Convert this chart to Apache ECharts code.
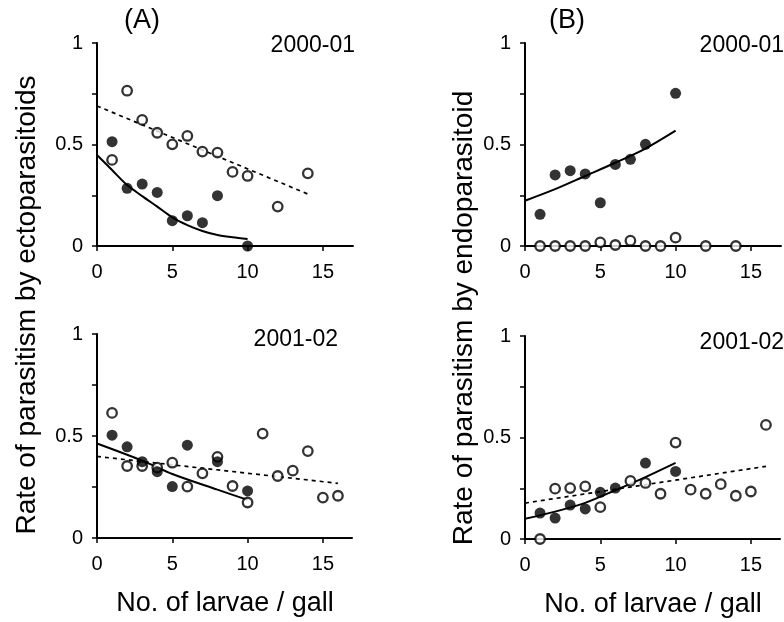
<!DOCTYPE html>
<html>
<head>
<meta charset="utf-8">
<script src="https://cdn.jsdelivr.net/npm/echarts@6/dist/echarts.min.js"></script>
<style>
  html, body { margin: 0; padding: 0; background: #fff; }
  #container { width: 784px; height: 622px; }
</style>
</head>
<body>
<div id="container"></div>
<script>
// values
const xTicks = [0, 5, 10, 15];
const yTicks = [0, 0.25, 0.5, 0.75, 1];
const yLabels = [0, 0.5, 1];

// (A) 2000-01
const a1FilledX = [1, 2, 3, 4, 5, 6, 7, 8, 10];
const a1FilledY = [0.514, 0.284, 0.305, 0.264, 0.125, 0.149, 0.115, 0.248, 0];
const a1OpenX = [1, 2, 3, 4, 5, 6, 7, 8, 9, 10, 12, 14];
const a1OpenY = [0.424, 0.765, 0.621, 0.558, 0.501, 0.542, 0.465, 0.46, 0.365, 0.345, 0.194, 0.358];
const a1FitX = [0, 1, 2, 3, 4, 5, 6, 7, 8, 9, 10];
const a1FitY = [0.448, 0.374, 0.3, 0.246, 0.194, 0.141, 0.103, 0.074, 0.054, 0.043, 0.035];
const a1DotX = [0, 14];
const a1DotY = [0.69, 0.256];

// (B) 2000-01
const b1FilledX = [1, 2, 3, 4, 5, 6, 7, 8, 10];
const b1FilledY = [0.156, 0.35, 0.371, 0.355, 0.213, 0.402, 0.427, 0.501, 0.752];
const b1OpenX = [1, 2, 3, 4, 5, 6, 7, 8, 9, 10, 12, 14];
const b1OpenY = [0, 0, 0, 0, 0.018, 0.005, 0.026, 0, 0, 0.041, 0, 0];
const b1FitX = [0, 2, 4, 6, 8, 10];
const b1FitY = [0.223, 0.28, 0.345, 0.41, 0.48, 0.568];

// (A) 2001-02
const a2FilledX = [1, 2, 3, 4, 5, 6, 8, 10];
const a2FilledY = [0.504, 0.447, 0.374, 0.325, 0.252, 0.455, 0.374, 0.231];
const a2OpenX = [1, 2, 3, 4, 5, 6, 7, 8, 9, 10, 11, 12, 13, 14, 15, 16];
const a2OpenY = [0.613, 0.353, 0.353, 0.345, 0.369, 0.252, 0.317, 0.398, 0.255, 0.174, 0.512, 0.304, 0.33, 0.426, 0.198, 0.207];
const a2FitX = [0, 3, 5, 8, 10];
const a2FitY = [0.463, 0.379, 0.314, 0.237, 0.187];
const a2DotX = [0, 16];
const a2DotY = [0.4, 0.268];

// (B) 2001-02
const b2FilledX = [1, 2, 3, 4, 5, 6, 8, 10];
const b2FilledY = [0.128, 0.103, 0.167, 0.148, 0.23, 0.251, 0.374, 0.333];
const b2OpenX = [1, 2, 3, 4, 5, 7, 8, 9, 10, 11, 12, 13, 14, 15, 16];
const b2OpenY = [0, 0.248, 0.251, 0.259, 0.157, 0.286, 0.276, 0.223, 0.475, 0.243, 0.223, 0.27, 0.213, 0.234, 0.562];
const b2FitX = [0, 2, 4, 6, 8, 10];
const b2FitY = [0.1, 0.135, 0.178, 0.24, 0.305, 0.375];
const b2DotX = [0, 16];
const b2DotY = [0.177, 0.358];

const FONT = "Liberation Sans, Arial, sans-serif";

function pairs(xs, ys) {
  return xs.map((x, i) => [x, ys[i]]);
}

function filled(i, xs, ys) {
  return {
    type: "scatter", xAxisIndex: i, yAxisIndex: i, z: 5,
    symbol: "circle", symbolSize: 11,
    itemStyle: { color: "#000" },
    data: pairs(xs, ys),
  };
}
function open(i, xs, ys) {
  return {
    type: "scatter", xAxisIndex: i, yAxisIndex: i, z: 4,
    symbol: "circle", symbolSize: 9.5,
    itemStyle: { color: "#fff", borderColor: "#000", borderWidth: 2.3 },
    data: pairs(xs, ys),
  };
}
function fit(i, xs, ys, dotted) {
  return {
    type: "line", xAxisIndex: i, yAxisIndex: i, z: 3,
    showSymbol: false, smooth: dotted ? false : 0.3,
    lineStyle: dotted
      ? { color: "#000", width: 1.7, type: [4, 4] }
      : { color: "#000", width: 2 },
    data: pairs(xs, ys),
  };
}

const grids = [
  { left: 97, top: 43, width: 256, height: 203 },
  { left: 525, top: 43, width: 256, height: 203 },
  { left: 97, top: 334, width: 256, height: 204 },
  { left: 525, top: 336, width: 256, height: 203 },
];

const xAxes = grids.map((g, i) => ({
  type: "value", gridIndex: i, min: 0, max: 17,
  axisLine: {
    onZero: false,
    lineStyle: { color: "#000", width: 2, type: i < 2 ? "solid" : [1, 1] },
  },
  axisTick: { show: true, length: 5, customValues: xTicks, lineStyle: { color: "#000", width: 1.5 } },
  axisLabel: { customValues: xTicks, margin: 16, color: "#000", fontSize: 20, fontFamily: FONT },
  splitLine: { show: false },
  name: i >= 2 ? "No. of larvae / gall" : "",
  nameLocation: "middle",
  nameGap: 52,
  nameTextStyle: { color: "#000", fontSize: 27, fontFamily: FONT },
}));

const yAxes = grids.map((g, i) => ({
  type: "value", gridIndex: i, min: 0, max: 1,
  axisLine: { lineStyle: { color: "#000", width: 2 } },
  axisTick: { show: true, length: 5, customValues: yTicks, lineStyle: { color: "#000", width: 1.5 } },
  axisLabel: { customValues: yLabels, margin: 14, color: "#000", fontSize: 20, fontFamily: FONT },
  splitLine: { show: false },
}));

const textStyle = (size) => ({ fill: "#000", fontSize: size, fontFamily: FONT });

const option = {
  animation: false,
  backgroundColor: "#fff",
  grid: grids,
  xAxis: xAxes,
  yAxis: yAxes,
  graphic: [
    { type: "text", x: 142, y: 21, style: { text: "(A)", ...textStyle(27), textAlign: "center", textVerticalAlign: "middle" } },
    { type: "text", x: 567, y: 21, style: { text: "(B)", ...textStyle(27), textAlign: "center", textVerticalAlign: "middle" } },
    { type: "text", x: 355, y: 46, style: { text: "2000-01", ...textStyle(23), textAlign: "right", textVerticalAlign: "middle" } },
    { type: "text", x: 784, y: 46, style: { text: "2000-01", ...textStyle(23), textAlign: "right", textVerticalAlign: "middle" } },
    { type: "text", x: 338, y: 340, style: { text: "2001-02", ...textStyle(23), textAlign: "right", textVerticalAlign: "middle" } },
    { type: "text", x: 784, y: 343, style: { text: "2001-02", ...textStyle(23), textAlign: "right", textVerticalAlign: "middle" } },
    { type: "text", x: 27, y: 305, rotation: Math.PI / 2,
      style: { text: "Rate of parasitism by ectoparasitoids", ...textStyle(28), textAlign: "center", textVerticalAlign: "middle" } },
    { type: "text", x: 464, y: 318, rotation: Math.PI / 2,
      style: { text: "Rate of parasitism by endoparasitoid", ...textStyle(28), textAlign: "center", textVerticalAlign: "middle" } },
  ],
  series: [
    fit(0, a1FitX, a1FitY, false),
    fit(0, a1DotX, a1DotY, true),
    open(0, a1OpenX, a1OpenY),
    filled(0, a1FilledX, a1FilledY),

    fit(1, b1FitX, b1FitY, false),
    open(1, b1OpenX, b1OpenY),
    filled(1, b1FilledX, b1FilledY),

    fit(2, a2FitX, a2FitY, false),
    fit(2, a2DotX, a2DotY, true),
    open(2, a2OpenX, a2OpenY),
    filled(2, a2FilledX, a2FilledY),

    fit(3, b2FitX, b2FitY, false),
    fit(3, b2DotX, b2DotY, true),
    open(3, b2OpenX, b2OpenY),
    filled(3, b2FilledX, b2FilledY),
  ],
};

const dom = document.getElementById("container");
const myChart = echarts.init(dom, null, { renderer: "canvas" });
myChart.setOption(option);
</script>
</body>
</html>
